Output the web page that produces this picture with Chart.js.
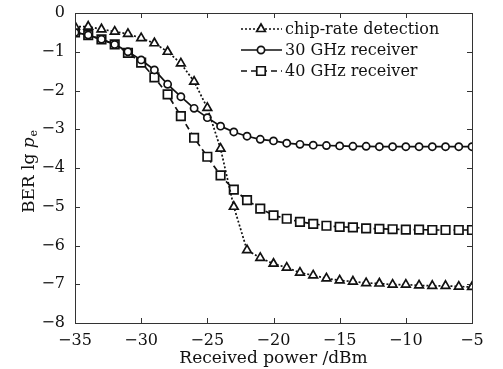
<!DOCTYPE html>
<html>
<head>
<meta charset="utf-8">
<script src="https://cdn.jsdelivr.net/npm/chart.js@4/dist/chart.umd.min.js"></script>
<style>
  html, body { margin: 0; background: #fff; }
  #wrap { width: 503px; height: 369px; }
</style>
</head>
<body>
<div id="wrap"><canvas id="c"></canvas></div>
<script>
// received power, dBm
const power = [-35, -34, -33, -32, -31, -30, -29, -28, -27, -26, -25, -24, -23, -22, -21, -20,
               -19, -18, -17, -16, -15, -14, -13, -12, -11, -10, -9, -8, -7, -6, -5];
// BER (lg pe)
const chipRate = [-0.35, -0.35, -0.42, -0.48, -0.54, -0.65, -0.78, -1.0, -1.3, -1.77, -2.45, -3.5,
                  -5.0, -6.12, -6.32, -6.47, -6.57, -6.7, -6.77, -6.85, -6.9, -6.93, -6.97, -6.98,
                  -7.01, -7.01, -7.03, -7.04, -7.04, -7.06, -7.07];
const rx30 = [-0.5, -0.57, -0.68, -0.81, -1.0, -1.21, -1.47, -1.84, -2.16, -2.46, -2.7, -2.92,
              -3.07, -3.18, -3.26, -3.3, -3.36, -3.39, -3.41, -3.42, -3.43, -3.44, -3.44, -3.45,
              -3.45, -3.45, -3.45, -3.45, -3.45, -3.45, -3.45];
const rx40 = [-0.5, -0.57, -0.68, -0.81, -1.03, -1.28, -1.66, -2.1, -2.66, -3.22, -3.71, -4.19,
              -4.56, -4.83, -5.05, -5.22, -5.31, -5.39, -5.44, -5.49, -5.52, -5.53, -5.56, -5.57,
              -5.58, -5.59, -5.59, -5.6, -5.6, -5.6, -5.6];
const seriesNames = ['chip-rate detection', '30 GHz receiver', '40 GHz receiver'];

const FONT = 'DejaVu Serif';
const INK = '#111';

function pts(ys) {
  return power.map((x, i) => ({ x: x, y: ys[i] }));
}

function minus(v) {
  return String(v).replace('-', '\u2212');
}

// box round the plot with ticks pointing inwards on all four sides
const frame = {
  id: 'frame',
  afterDatasetsDraw(chart) {
    const { ctx, chartArea: a, scales } = chart;
    ctx.save();
    ctx.strokeStyle = '#333';
    ctx.lineWidth = 1;
    ctx.strokeRect(a.left + 0.5, a.top + 0.5, a.right - a.left, a.bottom - a.top);
    ctx.beginPath();
    scales.x.ticks.forEach(t => {
      const px = Math.round(scales.x.getPixelForValue(t.value)) + 0.5;
      ctx.moveTo(px, a.bottom); ctx.lineTo(px, a.bottom - 5);
      ctx.moveTo(px, a.top); ctx.lineTo(px, a.top + 5);
    });
    scales.y.ticks.forEach(t => {
      const py = Math.round(scales.y.getPixelForValue(t.value)) + 0.5;
      ctx.moveTo(a.left, py); ctx.lineTo(a.left + 5, py);
      ctx.moveTo(a.right, py); ctx.lineTo(a.right - 5, py);
    });
    ctx.stroke();
    ctx.restore();
  },
  afterDraw(chart) {
    const { ctx } = chart;
    ctx.save();
    // y axis title: BER lg p_e
    ctx.translate(34, 172);
    ctx.rotate(-Math.PI / 2);
    ctx.fillStyle = INK;
    ctx.textBaseline = 'alphabetic';
    const a = 'BER lg ';
    ctx.font = '17px "' + FONT + '"';
    const wa = ctx.measureText(a).width;
    ctx.font = 'italic 17px "' + FONT + '"';
    const wp = ctx.measureText('p').width;
    ctx.font = '11px "' + FONT + '"';
    const we = ctx.measureText('e').width;
    let x0 = -(wa + wp + we) / 2;
    ctx.font = '17px "' + FONT + '"';
    ctx.fillText(a, x0, 0);
    ctx.font = 'italic 17px "' + FONT + '"';
    ctx.fillText('p', x0 + wa, 0);
    ctx.font = '11px "' + FONT + '"';
    ctx.fillText('e', x0 + wa + wp + 1, 3);
    ctx.restore();

    // legend: line sample with marker, then label
    ctx.save();
    chart.data.datasets.forEach((ds, i) => {
      const y = 29 + i * 21;
      ctx.strokeStyle = INK;
      ctx.lineWidth = ds.borderWidth;
      ctx.setLineDash(ds.borderDash || []);
      ctx.beginPath();
      ctx.moveTo(241, y); ctx.lineTo(282, y);
      ctx.stroke();
      ctx.setLineDash([]);
      ctx.fillStyle = '#fff';
      ctx.strokeStyle = INK;
      ctx.lineWidth = ds.pointBorderWidth;
      Chart.helpers.drawPoint(ctx, {
        pointStyle: ds.pointStyle, radius: ds.pointRadius, borderWidth: ds.pointBorderWidth
      }, 261, y);
      ctx.fillStyle = INK;
      ctx.font = '16px "' + FONT + '"';
      ctx.textBaseline = 'middle';
      ctx.fillText(ds.label, 285, y + 1);
    });
    ctx.restore();
  }
};

const common = {
  borderColor: INK,
  backgroundColor: '#fff',
  pointBorderColor: INK,
  pointBackgroundColor: '#fff',
  borderWidth: 1.7,
  pointBorderWidth: 1.7,
  tension: 0
};

new Chart(document.getElementById('c'), {
  type: 'line',
  data: {
    datasets: [
      Object.assign({}, common, {
        label: seriesNames[0], data: pts(chipRate),
        pointStyle: 'triangle', pointRadius: 5, borderDash: [2, 2]
      }),
      Object.assign({}, common, {
        label: seriesNames[1], data: pts(rx30),
        pointStyle: 'circle', pointRadius: 3.6
      }),
      Object.assign({}, common, {
        label: seriesNames[2], data: pts(rx40),
        pointStyle: 'rect', pointRadius: 6, borderDash: [6, 4]
      })
    ]
  },
  options: {
    responsive: true,
    maintainAspectRatio: false,
    animation: false,
    layout: { padding: { left: 0, right: 31, top: 13, bottom: 0 } },
    plugins: {
      legend: { display: false },
      tooltip: { enabled: false }
    },
    scales: {
      x: {
        type: 'linear', min: -35, max: -5,
        grid: { display: false },
        border: { display: false },
        afterFit: s => { s.height = 46; },
        ticks: {
          stepSize: 5, color: INK, padding: 0,
          font: { family: FONT, size: 16 },
          callback: v => minus(v)
        },
        title: {
          display: true, text: 'Received power /dBm', color: INK,
          font: { family: FONT, size: 17 }, padding: { top: 0, bottom: 0 }
        }
      },
      y: {
        type: 'linear', min: -8, max: 0,
        grid: { display: false },
        border: { display: false },
        afterFit: s => { s.width = 75; },
        ticks: {
          stepSize: 1, color: INK, padding: 2,
          font: { family: FONT, size: 16 },
          callback: v => minus(v)
        }
      }
    }
  },
  plugins: [frame]
});
</script>
</body>
</html>
